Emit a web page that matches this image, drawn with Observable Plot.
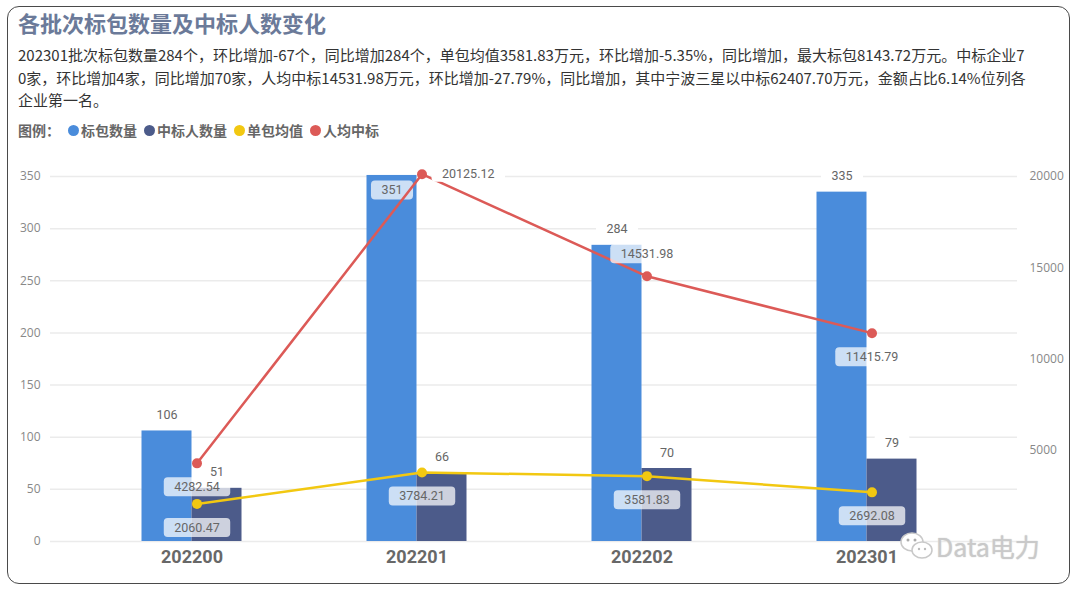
<!DOCTYPE html>
<html><head><meta charset="utf-8">
<script src="https://cdn.jsdelivr.net/npm/d3@7"></script>
<script src="https://cdn.jsdelivr.net/npm/@observablehq/plot@0.6"></script>
<style>
body{margin:0;background:#fff;font-family:"Noto Sans CJK SC","Noto Sans",sans-serif;}
#wrap{position:relative;width:1080px;height:594px;overflow:hidden;background:#fff;}
#frame{position:absolute;left:7px;top:6px;width:1061px;height:576px;border:1.6px solid #4a4a4a;border-radius:12px;}
#title{position:absolute;left:18px;top:8px;font-size:22px;line-height:28px;font-weight:bold;color:#6b7a99;white-space:nowrap;}
#sub{position:absolute;left:18px;top:44px;font-size:15px;line-height:22.5px;color:#333;}
#sub div{white-space:nowrap;}
#legend{position:absolute;left:18px;top:120px;font-size:14px;line-height:20px;font-weight:bold;color:#666;display:flex;align-items:center;white-space:nowrap;}
#legend .dot{display:inline-block;width:11px;height:11px;border-radius:50%;margin-right:2px;}
#legend .item{display:flex;align-items:center;margin-right:7px;}
#chart{position:absolute;left:0;top:145px;}
#wm{position:absolute;left:900px;top:528px;display:flex;align-items:center;color:#c9c9c9;font-size:25px;font-family:"Noto Sans CJK SC",sans-serif;text-shadow:0 0 2px #fff,0 0 1px #999;}
</style></head><body>
<div id="wrap">
  <div id="frame"></div>
  <div id="title">各批次标包数量及中标人数变化</div>
  <div id="sub"></div>
  <div id="legend"></div>
  <div id="chart"></div>
  <div id="wm"><svg width="34" height="30" viewBox="0 0 34 30"><ellipse cx="12" cy="11" rx="11" ry="9" fill="#fff" stroke="#c9c9c9" stroke-width="1.5"/><ellipse cx="22" cy="19" rx="10" ry="8" fill="#fff" stroke="#c9c9c9" stroke-width="1.5"/><circle cx="8" cy="9" r="1.5" fill="#aaa"/><circle cx="15" cy="9" r="1.5" fill="#aaa"/><circle cx="19" cy="18" r="1.2" fill="#bbb"/><circle cx="25" cy="18" r="1.2" fill="#bbb"/></svg><span style="margin-left:2px">Data电力</span></div>
</div>
<script>
// ---- data ----
const batches = ["202200", "202201", "202202", "202301"];
const packageCount = [106, 351, 284, 335];          // 标包数量 (left axis)
const winnerCount = [51, 66, 70, 79];               // 中标人数量 (left axis)
const avgPerPackage = [2060.47, 3784.21, 3581.83, 2692.08];   // 单包均值 (right axis)
const avgPerWinner = [4282.54, 20125.12, 14531.98, 11415.79]; // 人均中标 (right axis)
const leftTicks = [0, 50, 100, 150, 200, 250, 300, 350];
const rightTicks = [5000, 10000, 15000, 20000];
const leftMax = 350, rightMax = 20000;
const seriesNames = ["标包数量", "中标人数量", "单包均值", "人均中标"];
const seriesColors = ["#4A8CDB", "#4C5B8A", "#F2C811", "#DC5A57"];
const redLabelPlacement = ["below", "right", "above", "below"];

const subtitleLines = [
  "202301批次标包数量284个，环比增加-67个，同比增加284个，单包均值3581.83万元，环比增加-5.35%，同比增加，最大标包8143.72万元。中标企业7",
  "0家，环比增加4家，同比增加70家，人均中标14531.98万元，环比增加-27.79%，同比增加，其中宁波三星以中标62407.70万元，金额占比6.14%位列各",
  "企业第一名。"
];

// ---- header ----
document.getElementById("sub").innerHTML = subtitleLines.map(l => `<div>${l}</div>`).join("");
document.getElementById("legend").innerHTML = `<span style="margin-right:8px">图例：</span>` +
  seriesNames.map((n, i) => `<span class="item"><span class="dot" style="background:${seriesColors[i]}"></span>${n}</span>`).join("");

// ---- chart ----
const k = leftMax / rightMax;
const rows = batches.map((b, i) => ({
  batch: b, pkg: packageCount[i], win: winnerCount[i],
  avgPkg: avgPerPackage[i], avgWin: avgPerWinner[i], place: redLabelPlacement[i]
}));
const STEP = 225, HALF = STEP / 2, BAR = 50, LINE_DX = 5;
const lbl = {fontSize: 12.5, fill: "#666", fontFamily: "Roboto, sans-serif"};

// which label texts get a translucent box (inside) or an opaque white halo box
const boxed = new Set(), halo = new Set();
const fmt2 = v => v.toFixed(2);
rows.forEach(d => {
  (d.pkg > leftMax - 10 ? boxed : halo).add(String(d.pkg));
  halo.add(String(d.win));
  boxed.add(fmt2(d.avgPkg));
  (d.place === "right" ? halo : boxed).add(fmt2(d.avgWin));
});

const plot = Plot.plot({
  width: 1080, height: 440,
  marginTop: 31, marginBottom: 44, marginLeft: 50, marginRight: 63,
  x: {domain: batches, range: [78.5, 978.5], padding: 0, label: null},
  y: {domain: [0, leftMax], label: null},
  style: {fontFamily: "Roboto, sans-serif", background: "transparent"},
  marks: [
    Plot.ruleY(leftTicks, {stroke: "#ebebeb", strokeWidth: 1.5}),
    Plot.axisY(leftTicks, {anchor: "left", tickSize: 0, tickPadding: 10, fontSize: 12, fill: "#888", label: null, fontFamily: "'Open Sans', sans-serif"}),
    Plot.axisY(rightTicks.map(t => t * k), {anchor: "right", tickSize: 0, tickPadding: 12, fontSize: 12, fill: "#888", label: null,
      tickFormat: d => String(Math.round(d / k)), fontFamily: "'Open Sans', sans-serif"}),
    Plot.axisX({anchor: "bottom", tickSize: 0, tickPadding: 9, fontSize: 18, fontWeight: "bold", fill: "#686868", label: null, fontFamily: "Roboto, sans-serif"}),
    Plot.barY(rows, {x: "batch", y: "pkg", fill: seriesColors[0], insetLeft: HALF - BAR, insetRight: HALF}),
    Plot.barY(rows, {x: "batch", y: "win", fill: seriesColors[1], insetLeft: HALF, insetRight: HALF - BAR}),
    Plot.text(rows.filter(d => d.pkg <= leftMax - 10), {x: "batch", y: "pkg", text: d => String(d.pkg), dx: -BAR / 2, dy: -16, ...lbl}),
    Plot.text(rows.filter(d => d.pkg > leftMax - 10), {x: "batch", y: "pkg", text: d => String(d.pkg), dx: -BAR / 2, dy: 15, ...lbl}),
    Plot.text(rows, {x: "batch", y: "win", text: d => String(d.win), dx: BAR / 2, dy: -16, ...lbl}),
    Plot.lineY(rows, {x: "batch", y: d => d.avgWin * k, stroke: seriesColors[3], strokeWidth: 2.5, dx: LINE_DX}),
    Plot.lineY(rows, {x: "batch", y: d => d.avgPkg * k, stroke: seriesColors[2], strokeWidth: 2.5, dx: LINE_DX}),
    Plot.dot(rows, {x: "batch", y: d => d.avgWin * k, fill: seriesColors[3], r: 5, dx: LINE_DX}),
    Plot.dot(rows, {x: "batch", y: d => d.avgPkg * k, fill: seriesColors[2], r: 5, dx: LINE_DX}),
    Plot.text(rows, {x: "batch", y: d => d.avgPkg * k, text: d => fmt2(d.avgPkg), dx: LINE_DX, dy: 24, ...lbl}),
    Plot.text(rows.filter(d => d.place === "below"), {x: "batch", y: d => d.avgWin * k, text: d => fmt2(d.avgWin), dx: LINE_DX, dy: 24, ...lbl}),
    Plot.text(rows.filter(d => d.place === "above"), {x: "batch", y: d => d.avgWin * k, text: d => fmt2(d.avgWin), dx: LINE_DX, dy: -22, ...lbl}),
    Plot.text(rows.filter(d => d.place === "right"), {x: "batch", y: d => d.avgWin * k, text: d => fmt2(d.avgWin), dx: 25, dy: 0, textAnchor: "start", ...lbl})
  ]
});
document.getElementById("chart").appendChild(plot);

// label background boxes, sized from each rendered label
const NS = "http://www.w3.org/2000/svg";
plot.querySelectorAll("text").forEach(t => {
  const s = t.textContent;
  const isBox = boxed.has(s), isHalo = halo.has(s);
  if (!isBox && !isHalo) return;
  const b = t.getBBox();
  const h = isBox ? 19 : 16, padX = 10.5;
  const r = document.createElementNS(NS, "rect");
  r.setAttribute("x", b.x - padX);
  r.setAttribute("y", b.y + b.height / 2 - h / 2);
  r.setAttribute("width", b.width + 2 * padX);
  r.setAttribute("height", h);
  r.setAttribute("rx", 4);
  r.setAttribute("fill", "#ffffff");
  r.setAttribute("fill-opacity", isBox ? 0.72 : 1);
  const tr = t.getAttribute("transform");
  if (tr) r.setAttribute("transform", tr);
  t.parentNode.insertBefore(r, t);
});
</script>
</body></html>
